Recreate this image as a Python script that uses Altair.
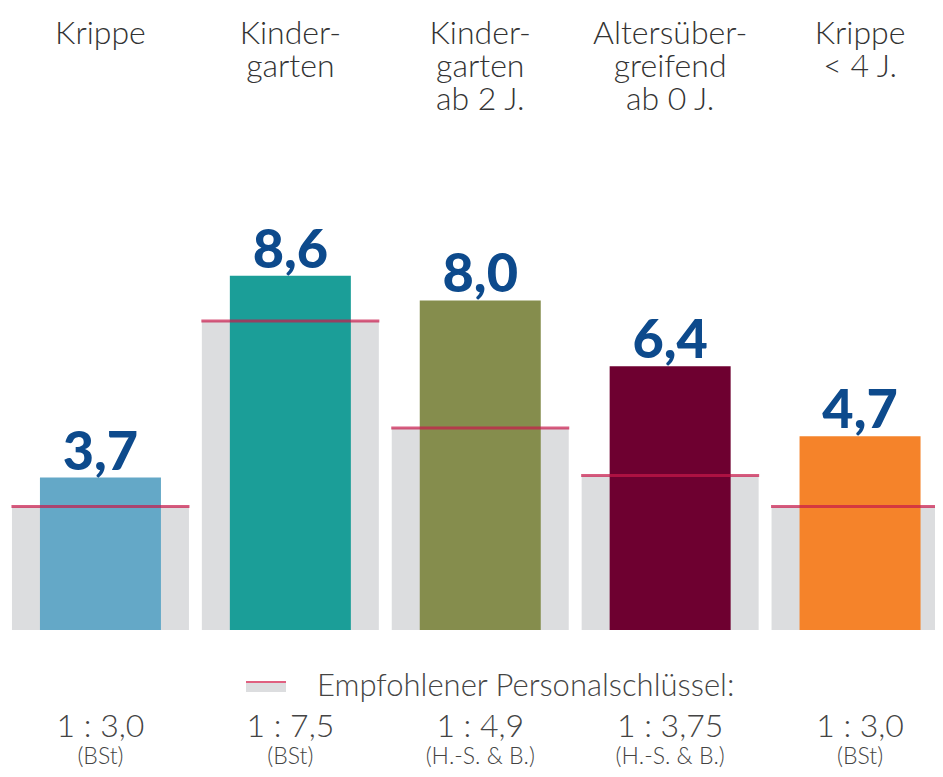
import altair as alt
import pandas as pd

categories = ["Krippe", "Kindergarten", "Kindergarten ab 2 J.", "Altersübergreifend ab 0 J.", "Krippe < 4 J."]
top_labels = ["Krippe", "Kinder-\ngarten", "Kinder-\ngarten\nab 2 J.", "Altersüber-\ngreifend\nab 0 J.", "Krippe\n< 4 J."]
actual = [3.7, 8.6, 8.0, 6.4, 4.7]
recommended = [3.0, 7.5, 4.9, 3.75, 3.0]
ratio_text = ["1 : 3,0", "1 : 7,5", "1 : 4,9", "1 : 3,75", "1 : 3,0"]
source_text = ["(BSt)", "(BSt)", "(H.-S. & B.)", "(H.-S. & B.)", "(BSt)"]
bar_colors = ["#64a8c7", "#1b9e98", "#858d4d", "#6e0030", "#f5832a"]
legend_label = "Empfohlener Personalschlüssel:"

df = pd.DataFrame({
    "cat": categories,
    "idx": list(range(len(categories))),
    "top": top_labels,
    "actual": actual,
    "rec": recommended,
    "val": [f"{v:.1f}".replace(".", ",") for v in actual],
    "ratio": ratio_text,
    "src": source_text,
})

W, H = 927, 761
x = alt.X("idx:Q", axis=None,
          scale=alt.Scale(domain=[-0.5, 4.5], range=[-7.5, 952], nice=False, zero=False))
yscale = alt.Scale(domain=[-3.374, 15.097], nice=False, zero=False)

base = alt.Chart(df).encode(x=x)

grey = base.mark_bar(color="#dcdddf", size=177).encode(
    y=alt.Y("rec:Q", scale=yscale, axis=None), y2=alt.datum(0))
colored = base.mark_bar(size=121).encode(
    y=alt.Y("actual:Q", scale=yscale, axis=None), y2=alt.datum(0),
    color=alt.Color("cat:N", sort=categories, legend=None,
                    scale=alt.Scale(domain=categories, range=bar_colors)))
redline = base.mark_tick(color="#c8184a", size=178, thickness=3, orient="horizontal").encode(
    y=alt.Y("rec:Q", scale=yscale, axis=None))
values = base.mark_text(font="Lato", fontWeight=900, fontSize=54, color="#0d4a8c",
                        baseline="alphabetic", dy=-8).encode(
    y=alt.Y("actual:Q", scale=yscale, axis=None), text="val:N")
tops = base.mark_text(font="Lato", fontWeight=300, fontSize=32, color="#333333",
                      baseline="alphabetic", lineBreak="\n", lineHeight=33).encode(
    y=alt.value(36), text="top:N")
ratios = base.mark_text(font="Lato", fontWeight=300, fontSize=32, color="#444444",
                        baseline="alphabetic").encode(y=alt.value(729), text="ratio:N")
srcs = base.mark_text(font="Lato", fontWeight=300, fontSize=23, color="#444444",
                      baseline="alphabetic").encode(y=alt.value(756), text="src:N")

leg = alt.Chart(pd.DataFrame({"t": [legend_label]}))
leg_rect = leg.mark_rect(color="#dcdddf").encode(
    x=alt.value(238), x2=alt.value(278), y=alt.value(675), y2=alt.value(684))
leg_rule = leg.mark_rule(color="#e06080", strokeWidth=2).encode(
    x=alt.value(238), x2=alt.value(278), y=alt.value(674))
leg_text = leg.mark_text(font="Lato", fontWeight=300, fontSize=31, color="#444444",
                         align="left", baseline="alphabetic").encode(
    x=alt.value(309), y=alt.value(688), text="t:N")

chart = alt.layer(grey, colored, redline, values, tops, ratios, srcs,
                  leg_rect, leg_rule, leg_text).properties(
    width=W, height=H, padding=0,
    autosize=alt.AutoSizeParams(type="none"),
).configure_view(stroke=None)

chart.save("out.html", embed_options={"renderer": "svg", "actions": False})
